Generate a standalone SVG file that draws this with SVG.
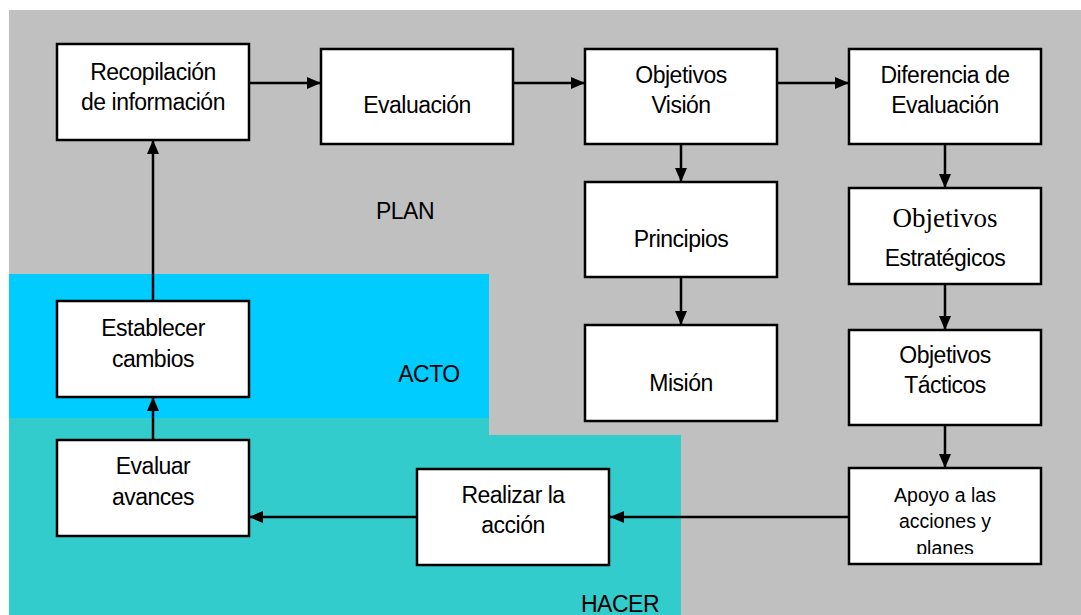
<svg xmlns="http://www.w3.org/2000/svg" width="1081" height="615" viewBox="0 0 1081 615">
<style>
.box{fill:#fff;stroke:#000;stroke-width:2.5}
.t{font-family:"Liberation Sans Narrow","Liberation Sans",Arial,sans-serif;font-size:23px;letter-spacing:-0.5px;fill:#000;text-anchor:middle}
.s{font-size:19.5px;letter-spacing:0}
.serif{font-family:"Liberation Serif","Times New Roman",serif;font-size:27px;letter-spacing:0}
.lbl{font-family:"Liberation Sans Narrow","Liberation Sans",Arial,sans-serif;font-size:23px;letter-spacing:-0.5px;fill:#000;text-anchor:middle}
.c{stroke:#000;stroke-width:2.5;fill:none;marker-end:url(#ah)}
</style>
<defs>
<marker id="ah" viewBox="0 0 14 12" refX="14" refY="6" markerWidth="14" markerHeight="12" markerUnits="userSpaceOnUse" orient="auto">
<path d="M0,0 L14,6 L0,12 Z" fill="#000"/>
</marker>
<clipPath id="apclip"><rect x="850" y="470" width="190" height="84"/></clipPath>
</defs>
<rect width="1081" height="615" fill="#fff"/>
<g id="zones">
<rect x="9" y="10" width="1072" height="605" fill="#C0C0C0"/>
<rect x="9" y="274" width="480" height="144" fill="#00CCFF"/>
<polygon points="9,418 489,418 489,435 681,435 681,615 9,615" fill="#33CCCC"/>
<text class="lbl" x="405" y="219">PLAN</text>
<text class="lbl" x="429" y="382">ACTO</text>
<text class="lbl" x="620" y="612">HACER</text>
</g>
<g id="connectors">
<line class="c" x1="249" y1="83" x2="321" y2="83"/>
<line class="c" x1="513" y1="83" x2="585" y2="83"/>
<line class="c" x1="777" y1="83" x2="849" y2="83"/>
<line class="c" x1="681" y1="144" x2="681" y2="182"/>
<line class="c" x1="681" y1="277" x2="681" y2="325"/>
<line class="c" x1="945" y1="144" x2="945" y2="188"/>
<line class="c" x1="945" y1="277" x2="945" y2="330"/>
<line class="c" x1="945" y1="425" x2="945" y2="468"/>
<line class="c" x1="849" y1="517" x2="610" y2="517"/>
<line class="c" x1="417" y1="517" x2="249" y2="517"/>
<line class="c" x1="153" y1="440" x2="153" y2="397"/>
<line class="c" x1="153" y1="301" x2="153" y2="140"/>
</g>
<g id="recopilacion">
<rect class="box" x="57" y="44" width="192" height="96"/>
<text class="t" x="153" y="80">Recopilación</text>
<text class="t" x="153" y="110">de información</text>
</g>
<g id="evaluacion">
<rect class="box" x="321" y="49" width="192" height="95"/>
<text class="t" x="417" y="113">Evaluación</text>
</g>
<g id="objetivos-vision">
<rect class="box" x="585" y="49" width="192" height="95"/>
<text class="t" x="681" y="83">Objetivos</text>
<text class="t" x="681" y="113">Visión</text>
</g>
<g id="diferencia">
<rect class="box" x="849" y="49" width="192" height="95"/>
<text class="t" x="945" y="83">Diferencia de</text>
<text class="t" x="945" y="113">Evaluación</text>
</g>
<g id="principios">
<rect class="box" x="585" y="182" width="192" height="95"/>
<text class="t" x="681" y="247">Principios</text>
</g>
<g id="mision">
<rect class="box" x="585" y="325" width="192" height="96"/>
<text class="t" x="681" y="391">Misión</text>
</g>
<g id="obj-estrategicos">
<rect class="box" x="849" y="188" width="192" height="96"/>
<text class="t serif" x="945" y="227">Objetivos</text>
<text class="t" x="945" y="266">Estratégicos</text>
</g>
<g id="obj-tacticos">
<rect class="box" x="849" y="330" width="192" height="95"/>
<text class="t" x="945" y="363">Objetivos</text>
<text class="t" x="945" y="393">Tácticos</text>
</g>
<g id="apoyo">
<rect class="box" x="849" y="468" width="192" height="96"/>
<g clip-path="url(#apclip)">
<text class="t s" x="945" y="502">Apoyo a las</text>
<text class="t s" x="945" y="528">acciones y</text>
<text class="t s" x="945" y="555">planes</text>
</g>
</g>
<g id="realizar">
<rect class="box" x="417" y="469" width="192" height="96"/>
<text class="t" x="513" y="503">Realizar la</text>
<text class="t" x="513" y="533">acción</text>
</g>
<g id="evaluar">
<rect class="box" x="57" y="440" width="192" height="96"/>
<text class="t" x="153" y="474">Evaluar</text>
<text class="t" x="153" y="505">avances</text>
</g>
<g id="establecer">
<rect class="box" x="57" y="301" width="192" height="96"/>
<text class="t" x="153" y="336">Establecer</text>
<text class="t" x="153" y="367">cambios</text>
</g>
</svg>
